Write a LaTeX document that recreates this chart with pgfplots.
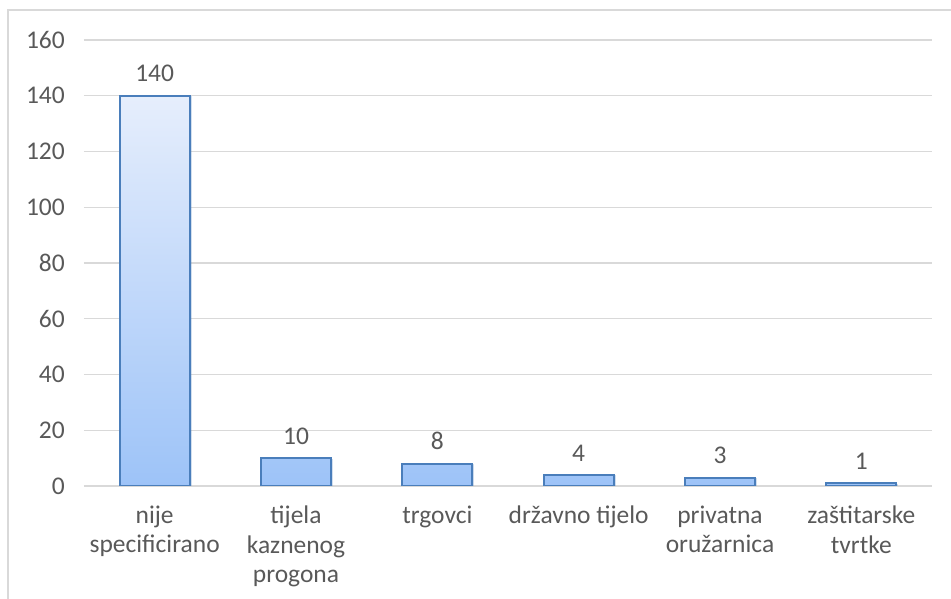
\documentclass[border=0pt]{standalone}
\usepackage{fontspec}
\setmainfont{Carlito}
\usepackage{pgfplots}
\pgfplotsset{compat=1.18}
\usetikzlibrary{shadows}

\definecolor{textgray}{RGB}{89,89,89}
\definecolor{gridgray}{RGB}{217,217,217}
\definecolor{framegray}{RGB}{217,217,217}
\definecolor{barline}{RGB}{74,126,187}
\definecolor{bartop}{RGB}{230,238,252}
\definecolor{barbottom}{RGB}{157,195,248}

\newcommand{\chartfont}{\fontsize{14.5}{16.6}\selectfont}

\begin{document}
\begin{tikzpicture}
% page is 951 x 599 px at 0.02 cm per px
\useasboundingbox (0,0) rectangle (19.02cm,11.98cm);
\draw[framegray, line width=0.8pt] (0.16cm,0) -- (0.16cm,11.78cm) -- (19.02cm,11.78cm);

\begin{axis}[
    at={(1.68cm,2.26cm)},
    anchor=south west,
    scale only axis,
    width=16.96cm,
    height=8.92cm,
    xmin=-0.5, xmax=5.5,
    ymin=0, ymax=160,
    ytick={0,20,...,160},
    xtick={0,...,5},
    xticklabels={
        {nije\\specificirano},
        {tijela\\kaznenog\\progona},
        {trgovci},
        {državno tijelo},
        {privatna\\oružarnica},
        {zaštitarske\\tvrtke}},
    ymajorgrids,
    grid style={gridgray, line width=0.8pt},
    axis line style={draw=none},
    major tick length=0pt,
    tick label style={font=\chartfont, text=textgray},
    yticklabel style={xshift=-0.26cm},
    xticklabel style={align=center, yshift=-0.28cm},
    /pgf/number format/assume math mode=true,
    ybar,
    bar width=1.4cm,
    nodes near coords,
    every node near coord/.append style={font=\chartfont, text=textgray, yshift=0.14cm},
]
\addplot[
    draw=barline,
    line width=1.1pt,
    top color=bartop,
    bottom color=barbottom,
    drop shadow={opacity=0.25, shadow xshift=0.5pt, shadow yshift=-0.8pt},
] coordinates {
    (0,140)
    (1,10)
    (2,8)
    (3,4)
    (4,3)
    (5,1)
};
\end{axis}
\end{tikzpicture}
\end{document}
